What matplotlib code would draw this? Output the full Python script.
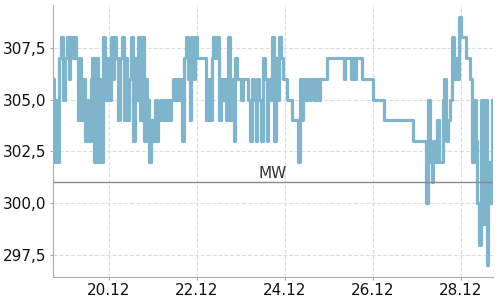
import matplotlib
matplotlib.use('Agg')
import matplotlib.pyplot as plt
import matplotlib.dates as mdates
from matplotlib.ticker import FuncFormatter
import pandas as pd

# hourly readings, starting 18.12 17:30
start = '2023-12-18 17:30'
values = [
    306, 302, 305, 302, 307, 308, 305, 307, 308, 306,
    308, 307, 308, 307, 304, 307, 304, 306, 303, 305,
    303, 306, 307, 302, 307, 302, 306, 302, 308, 305,
    307, 305, 308, 306, 308, 307, 304, 307, 308, 304,
    307, 304, 306, 308, 303, 307, 305, 308, 304, 308,
    303, 306, 305, 302, 304, 303, 305, 303, 304, 305,
    304, 305, 304, 305, 304, 305, 306, 305, 306, 305,
    306, 303, 307, 308, 306, 304, 308, 306, 308, 307,
    307, 307, 307, 307, 304, 306, 304, 307, 308, 307,
    308, 304, 306, 305, 306, 304, 308, 304, 306, 303,
    307, 306, 306, 305, 306, 306, 306, 305, 303, 306,
    305, 303, 306, 305, 303, 307, 306, 303, 306, 305,
    308, 303, 307, 305, 308, 307, 306, 306, 305, 305,
    305, 304, 304, 304, 302, 306, 304, 306, 305, 306,
    305, 306, 306, 305, 306, 305, 306, 306, 306, 306,
    307, 307, 307, 307, 307, 307, 307, 307, 307, 306,
    307, 307, 307, 306, 307, 306, 307, 307, 307, 306,
    306, 306, 306, 306, 306, 305, 305, 305, 305, 305,
    305, 304, 304, 304, 304, 304, 304, 304, 304, 304,
    304, 304, 304, 304, 304, 304, 304, 303, 303, 303,
    303, 303, 303, 303, 300, 305, 302, 301, 303, 302,
    304, 302, 302, 305, 306, 303, 304, 305, 308, 306,
    307, 306, 309, 308, 308, 308, 307, 307, 306, 302,
    305, 303, 300, 298, 305, 299, 305, 297, 302, 300,
    305,
]
mean_value = 301.0
mean_label = 'MW'
tick_days = ['2023-12-20', '2023-12-22', '2023-12-24', '2023-12-26', '2023-12-28']
y_ticks = [297.5, 300.0, 302.5, 305.0, 307.5]

times = pd.date_range(start=start, periods=len(values), freq='h')

fig = plt.figure(figsize=(5, 3), dpi=100)
ax = fig.add_axes([0.106, 0.077, 0.88, 0.906])

ax.plot(times, values, color='#7eb4cc', linewidth=2.3, drawstyle='steps-mid')
ax.axhline(mean_value, color='#8a8a8a', linewidth=1)
ax.text(0.5, mean_value + 0.08, mean_label, transform=ax.get_yaxis_transform(),
        ha='center', va='bottom', fontsize=11, color='#333333')

ax.set_xlim(times[0], times[-1])
ax.set_ylim(296.45, 309.55)
ax.set_yticks(y_ticks)
ax.yaxis.set_major_formatter(FuncFormatter(lambda v, p: f'{v:.1f}'.replace('.', ',')))
ax.set_xticks(pd.to_datetime(tick_days))
ax.xaxis.set_major_formatter(mdates.DateFormatter('%d.%m'))

ax.grid(True, color='#dddddd', linestyle='--', linewidth=0.8)
ax.set_axisbelow(True)
for s in ['top', 'right']:
    ax.spines[s].set_visible(False)
for s in ['left', 'bottom']:
    ax.spines[s].set_color('#aaaaaa')
ax.tick_params(axis='both', labelsize=11, color='#aaaaaa', labelcolor='#111111',
               length=2.5, width=0.8, pad=2)

fig.savefig('out.png', dpi=100)
